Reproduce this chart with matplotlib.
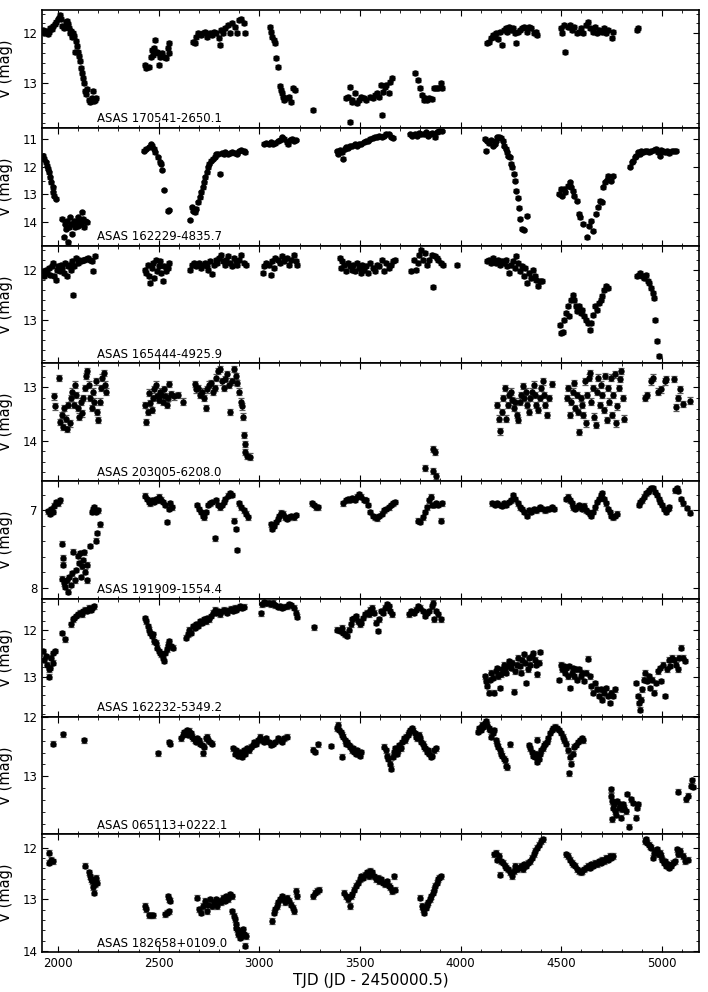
import matplotlib
matplotlib.use("Agg")
import matplotlib.pyplot as plt
from matplotlib.ticker import MultipleLocator

# ---------------- data: (TJD, V mag) per star ----------------
names = ["ASAS 170541-2650.1", "ASAS 162229-4835.7", "ASAS 165444-4925.9",
         "ASAS 203005-6208.0", "ASAS 191909-1554.4", "ASAS 162232-5349.2",
         "ASAS 065113+0222.1", "ASAS 182658+0109.0"]

# typical photometric error per star (mag)
errors = [0.04, 0.05, 0.04, 0.06, 0.03, 0.05, 0.04, 0.05]

lc_170541 = [
    (1925,11.93),(1932,12.0),(1940,11.95),(1948,12.02),(1955,11.97),(1962,11.9),(1970,11.92),(1977,11.85),
    (1985,11.82),(1992,11.78),(2000,11.72),(2005,11.68),(2010,11.62),(2015,11.7),(2022,11.85),(2028,11.9),
    (2035,11.88),(2040,11.78),(2045,11.75),(2050,11.82),(2056,11.9),(2062,12.0),(2066,11.95),(2070,12.08),
    (2075,12.0),(2080,12.05),(2086,12.38),(2090,12.15),(2095,12.25),(2100,12.38),(2105,12.45),(2110,12.55),
    (2115,12.7),(2120,12.8),(2125,12.9),(2130,13.0),(2135,13.15),(2138,13.22),(2145,13.12),(2155,13.33),
    (2160,13.38),(2165,13.35),(2170,13.3),(2175,13.15),(2180,13.35),(2185,13.33),(2190,13.3),
    (2432,12.63),(2439,12.7),(2450,12.67),(2461,12.47),(2468,12.33),(2472,12.43),(2479,12.3),(2484,12.13),
    (2490,12.37),(2495,12.4),(2500,12.63),(2506,12.47),(2517,12.4),(2529,12.47),(2535,12.5),(2545,12.3),
    (2549,12.2),(2553,12.4),
    (2670,12.17),(2679,12.2),(2686,12.07),(2697,12.0),(2709,12.03),(2720,12.0),(2731,11.97),(2742,12.07),
    (2754,12.0),(2765,12.03),(2776,11.97),(2783,12.0),(2799,12.1),(2803,12.23),(2810,11.93),(2821,12.0),
    (2832,11.9),(2844,11.83),(2855,12.0),(2866,11.8),(2877,11.87),(2889,12.0),(2900,11.73),(2911,11.7),
    (2922,11.8),(2927,12.0),
    (3053,11.88),(3057,11.97),(3064,12.07),(3073,12.13),(3080,12.2),(3084,12.5),(3091,12.67),(3102,13.05),
    (3107,13.13),(3114,13.2),(3118,13.27),(3125,13.33),(3136,13.3),(3147,13.27),(3159,13.37),(3165,13.1),
    (3177,13.13),(3265,13.53),
    (3431,13.3),(3440,13.27),(3451,13.07),(3452,13.77),(3458,13.33),(3462,13.37),(3474,13.2),(3485,13.4),
    (3496,13.33),(3507,13.27),(3519,13.3),(3530,13.33),(3548,13.27),(3564,13.3),(3575,13.23),(3586,13.2),
    (3597,13.27),(3604,13.03),(3609,13.63),(3615,13.17),(3624,13.07),(3631,13.03),(3642,13.2),(3649,12.97),
    (3658,12.9),
    (3771,12.79),(3789,12.93),(3800,13.1),(3807,13.23),(3816,13.33),(3822,13.3),(3834,13.33),(3845,13.3),
    (3856,13.31),(3867,13.1),(3879,13.1),(3890,13.1),(3901,13.0),(3908,13.1),
    (4133,12.2),(4142,12.17),(4151,12.1),(4160,12.03),(4169,12.07),(4178,12.0),(4187,12.12),(4196,11.97),
    (4205,12.23),(4214,11.93),(4223,11.9),(4232,11.97),(4241,11.88),(4250,11.93),(4259,11.9),(4268,12.0),
    (4277,12.19),(4286,11.97),(4295,11.93),(4306,11.9),(4317,11.87),(4329,11.97),(4340,11.87),(4351,11.9),
    (4362,12.0),(4374,11.97),(4380,12.03),
    (4497,11.9),(4504,12.0),(4513,11.83),(4520,12.37),(4531,11.87),(4542,11.83),(4554,11.93),(4565,11.87),
    (4576,12.0),(4587,11.97),(4599,11.9),(4610,12.0),(4621,11.83),(4632,11.77),(4644,11.9),(4655,11.97),
    (4666,11.87),(4677,12.0),(4689,11.93),(4700,11.97),(4711,11.9),(4722,12.0),(4734,11.93),(4750,12.1),
    (4758,11.97),(4875,11.93),(4880,11.9),
]

lc_162229 = [
    (1926,11.6),(1932,11.72),(1939,11.84),(1946,11.96),(1950,12.08),(1955,12.2),(1960,12.38),(1966,12.56),
    (1973,12.74),(1977,12.92),(1982,13.04),(1989,13.16),
    (2022,13.88),(2029,14.54),(2034,14.06),(2040,14.24),(2045,13.94),(2050,14.72),(2056,14.18),(2061,13.82),
    (2067,14.06),(2072,14.42),(2079,13.94),(2085,14.18),(2090,14.0),(2097,13.82),(2101,14.12),(2108,13.94),
    (2112,14.06),(2117,13.64),(2124,13.88),(2130,14.18),(2135,13.94),(2142,14.0),
    (2427,11.42),(2439,11.36),(2450,11.3),(2461,11.2),(2468,11.24),(2477,11.36),(2484,11.48),(2495,11.66),
    (2506,11.84),(2513,11.9),(2517,12.12),(2529,12.84),(2545,13.58),(2553,13.56),
    (2657,13.92),(2664,13.46),(2670,13.58),(2679,13.64),(2688,13.52),(2697,13.28),(2704,13.1),(2711,12.92),
    (2718,12.74),(2725,12.56),(2731,12.38),(2738,12.2),(2745,12.02),(2751,11.9),(2760,11.78),(2770,11.72),
    (2778,11.64),(2787,11.56),(2796,11.54),(2805,12.26),(2814,11.52),(2823,11.56),(2832,11.48),(2844,11.54),
    (2855,11.52),(2866,11.48),(2877,11.52),(2889,11.54),(2900,11.44),(2911,11.4),(2922,11.42),(2929,11.48),
    (3024,11.18),(3035,11.16),(3046,11.2),(3057,11.12),(3069,11.18),(3080,11.16),(3091,11.08),(3102,11.04),
    (3114,10.94),(3125,11.0),(3136,11.12),(3143,11.2),(3152,11.04),(3163,11.0),(3174,11.06),(3183,11.04),
    (3384,11.44),(3391,11.54),(3400,11.4),(3409,11.48),(3417,11.72),(3424,11.36),(3433,11.3),(3442,11.32),
    (3451,11.24),(3462,11.24),(3474,11.2),(3485,11.24),(3496,11.18),(3507,11.18),(3519,11.12),(3530,11.08),
    (3541,11.06),(3552,11.0),(3564,10.96),(3575,10.92),(3586,10.94),(3597,10.88),(3609,10.92),(3620,10.88),
    (3631,10.82),(3642,10.84),(3654,10.92),(3665,10.96),
    (3748,10.84),(3759,10.88),(3771,10.82),(3782,10.88),(3793,10.8),(3804,10.84),(3816,10.82),(3827,10.76),
    (3838,10.88),(3849,10.84),(3860,10.8),(3872,10.94),(3883,10.76),(3894,10.7),(3906,10.72),
    (4120,11.0),(4126,11.42),(4133,11.08),(4142,11.16),(4151,11.04),(4160,11.24),(4169,11.18),(4176,11.06),
    (4182,10.94),(4191,10.92),(4200,10.96),(4209,11.06),(4216,11.24),(4223,11.36),(4230,11.48),(4236,11.6),
    (4243,11.66),(4250,11.9),(4257,12.02),(4263,12.26),(4270,12.5),(4277,12.86),(4284,13.12),(4290,13.48),
    (4295,13.88),(4306,14.24),(4317,14.28),(4329,13.76),
    (4491,12.98),(4497,12.8),(4504,13.04),(4513,12.8),(4520,12.92),(4531,12.68),(4542,12.56),(4549,12.74),
    (4556,12.86),(4565,13.04),(4576,13.22),(4587,13.7),(4594,13.82),(4610,14.06),(4626,14.54),(4637,14.12),
    (4646,13.94),(4655,14.3),(4673,13.7),(4684,13.46),(4691,13.22),(4700,13.28),(4707,12.74),(4716,12.56),
    (4725,12.48),(4734,12.32),(4745,12.5),(4756,12.32),
    (4840,12.0),(4849,11.84),(4857,11.78),(4864,11.66),(4873,11.6),(4880,11.48),(4889,11.54),(4898,11.44),
    (4907,11.48),(4916,11.44),(4925,11.42),(4936,11.48),(4947,11.44),(4959,11.4),(4970,11.36),(4981,11.48),
    (4988,11.6),(4997,11.4),(5006,11.44),(5015,11.48),(5026,11.42),(5037,11.52),(5049,11.44),(5060,11.42),
    (5071,11.42),
]

lc_165444 = [
    (1926,12.03),(1932,12.13),(1939,12.0),(1946,12.07),(1955,11.97),(1962,12.1),(1968,11.93),(1975,11.87),
    (1982,12.13),(1989,12.2),(1995,12.0),(2002,11.93),(2009,12.03),(2016,11.9),(2022,11.97),(2029,12.07),
    (2036,11.87),(2043,12.13),(2050,11.93),(2056,11.9),(2063,12.0),(2070,11.83),(2074,12.5),(2081,11.93),
    (2090,11.77),(2097,11.87),(2104,11.8),(2112,11.83),(2122,11.8),(2130,11.81),(2140,11.79),(2149,11.77),
    (2157,11.8),(2169,11.83),(2176,12.03),(2185,11.73),
    (2432,12.0),(2439,12.07),(2446,11.9),(2452,12.13),(2459,12.27),(2466,11.97),(2472,11.87),(2479,12.17),
    (2486,11.8),(2493,12.03),(2500,11.93),(2506,11.83),(2513,12.07),(2520,12.23),(2526,11.93),(2535,12.03),
    (2545,11.97),(2553,11.87),
    (2657,12.0),(2666,11.9),(2675,11.87),(2684,11.93),(2693,11.9),(2702,11.87),(2711,11.97),(2720,11.9),
    (2729,11.87),(2738,11.93),(2747,12.0),(2756,11.83),(2765,12.08),(2774,11.9),(2783,11.8),(2792,11.87),
    (2801,11.77),(2810,11.7),(2819,11.83),(2828,11.9),(2837,11.8),(2846,11.73),(2855,11.87),(2864,11.93),
    (2873,11.77),(2882,11.83),(2891,11.9),(2900,11.8),(2911,11.7),(2922,11.87),(2934,11.9),
    (3017,12.07),(3024,11.93),(3035,11.87),(3046,11.9),(3057,12.1),(3064,11.83),(3073,11.97),(3080,11.77),
    (3091,11.8),(3102,11.87),(3114,11.73),(3125,11.83),(3136,11.77),(3147,11.9),(3159,11.8),(3170,11.7),
    (3181,11.83),(3188,11.9),
    (3400,11.77),(3406,11.97),(3413,11.83),(3422,11.9),(3431,12.03),(3440,11.87),(3449,11.93),(3458,12.0),
    (3467,11.9),(3476,12.03),(3485,11.87),(3494,11.97),(3503,12.07),(3512,11.9),(3521,12.0),(3530,11.93),
    (3541,12.07),(3552,11.87),(3564,11.97),(3575,12.03),(3586,11.9),(3597,11.93),(3609,11.8),(3620,12.03),
    (3631,11.87),(3642,11.97),(3654,11.9),(3665,11.83),(3676,11.8),
    (3755,12.03),(3766,11.8),(3777,12.0),(3789,11.87),(3795,11.7),(3804,11.6),(3811,11.8),(3822,11.67),
    (3834,11.9),(3845,11.8),(3856,11.7),(3863,12.35),(3872,11.73),(3881,11.77),(3890,11.8),(3901,11.87),
    (3912,11.9),(3980,11.9),
    (4133,11.83),(4142,11.8),(4151,11.87),(4160,11.77),(4169,11.83),(4178,11.87),(4187,11.8),(4196,11.9),
    (4205,11.83),(4214,11.87),(4223,11.8),(4232,11.93),(4241,12.07),(4250,11.9),(4259,11.83),(4268,11.97),
    (4277,11.73),(4286,11.87),(4295,12.03),(4304,11.93),(4313,12.13),(4322,11.97),(4331,12.27),(4340,12.07),
    (4349,12.17),(4358,12.0),(4367,12.13),(4376,12.2),(4385,12.33),(4394,12.23),(4403,12.23),
    (4493,13.1),(4497,13.27),(4506,13.25),(4515,13.0),(4525,12.87),(4531,12.73),(4538,12.93),(4547,12.6),
    (4556,12.5),(4565,12.6),(4572,12.73),(4578,12.83),(4587,12.73),(4596,12.87),(4605,12.8),(4614,12.93),
    (4623,13.0),(4632,13.07),(4641,13.2),(4650,13.07),(4659,12.9),(4668,12.73),(4677,12.8),(4686,12.67),
    (4695,12.6),(4704,12.53),(4713,12.4),(4722,12.33),(4731,12.37),
    (4875,12.13),(4884,12.1),(4893,12.07),(4902,12.13),(4911,12.17),(4920,12.1),(4929,12.23),(4938,12.27),
    (4947,12.37),(4954,12.47),(4961,12.57),(4965,13.0),(4975,13.43),(4983,13.73),
]

lc_203005 = [
    (1982,13.17),(1987,13.36),(2005,12.83),(2011,13.65),(2018,13.52),(2025,13.75),(2032,13.39),(2038,13.59),
    (2045,13.78),(2052,13.33),(2058,13.68),(2065,13.2),(2072,13.08),(2079,13.33),(2085,12.95),(2092,13.14),
    (2099,13.39),(2106,13.55),(2112,13.27),(2119,13.49),(2126,13.2),(2133,13.01),(2140,12.79),(2146,12.69),
    (2153,12.95),(2160,13.2),(2167,13.39),(2173,13.08),(2180,13.27),(2187,12.89),(2194,13.46),(2200,13.62),
    (2207,13.27),(2214,13.01),(2221,12.82),(2227,12.73),(2234,12.95),(2241,13.08),
    (2432,13.33),(2439,13.65),(2446,13.46),(2452,13.1),(2459,13.3),(2466,13.43),(2472,13.2),(2479,13.04),
    (2486,12.95),(2493,13.17),(2500,13.24),(2506,13.08),(2513,13.14),(2520,13.27),(2526,13.04),(2533,13.17),
    (2540,13.33),(2547,13.2),(2553,12.94),(2562,13.13),(2574,13.17),(2596,13.14),(2619,13.27),
    (2682,12.94),(2688,13.04),(2697,13.01),(2706,13.14),(2715,13.08),(2725,13.2),(2734,13.39),(2742,13.04),
    (2751,12.95),(2760,12.92),(2770,13.08),(2778,13.01),(2787,12.82),(2796,12.69),(2805,12.66),(2814,12.89),
    (2823,13.01),(2832,12.85),(2841,12.76),(2850,12.95),(2855,13.46),(2864,12.89),(2873,12.66),(2882,12.79),
    (2891,12.92),(2900,13.08),(2907,13.27),(2913,13.36),(2918,13.55),(2922,13.9),(2927,14.06),(2931,14.22),
    (2940,14.29),(2952,14.3),
    (3822,14.51),(3863,14.16),(3872,14.22),(3864,14.57),(3879,14.67),
    (4182,13.33),(4189,13.59),(4196,13.83),(4205,13.46),(4212,13.2),(4218,13.01),(4227,13.59),(4234,13.33),
    (4241,13.14),(4250,13.08),(4257,13.24),(4263,13.39),(4272,13.27),(4279,13.52),(4286,13.62),(4295,13.27),
    (4302,13.14),(4308,12.98),(4317,13.2),(4324,13.08),(4331,13.33),(4340,13.46),(4347,13.2),(4353,13.08),
    (4362,12.95),(4369,13.14),(4376,13.33),(4385,13.43),(4392,13.2),(4398,13.01),(4407,12.89),(4414,13.14),
    (4421,13.33),(4430,13.52),(4439,13.2),(4452,12.94),
    (4527,13.2),(4533,13.01),(4542,13.52),(4549,13.27),(4556,13.08),(4563,12.92),(4569,13.39),(4576,13.14),
    (4583,13.46),(4590,13.84),(4596,13.2),(4603,13.33),(4610,13.52),(4617,12.89),(4623,13.68),(4630,13.14),
    (4637,12.82),(4644,12.73),(4650,13.27),(4657,13.01),(4664,13.55),(4671,13.71),(4677,13.08),(4684,12.82),
    (4691,13.33),(4698,12.95),(4704,13.14),(4711,13.43),(4718,12.79),(4725,13.62),(4731,13.01),(4738,13.27),
    (4745,12.82),(4752,13.52),(4758,13.14),(4765,12.76),(4772,13.68),(4779,13.36),(4785,13.01),(4792,12.85),
    (4799,12.69),(4806,13.2),(4812,13.59),
    (4914,13.2),(4925,13.14),(4947,12.89),(4954,12.82),(4981,13.08),(4997,13.04),(5015,12.89),(5022,12.85),
    (5060,12.85),(5071,13.38),(5082,13.2),(5089,13.04),(5105,13.32),(5139,13.25),
]

lc_191909 = [
    (1951,7.01),(1960,7.04),(1966,6.98),(1973,7.02),(1982,6.94),(1991,6.89),(2000,6.91),(2009,6.87),
    (2018,7.43),(2025,7.61),(2027,7.7),(2022,7.88),(2029,7.94),(2036,7.99),(2043,7.9),(2050,8.05),
    (2056,7.86),(2063,7.96),(2070,7.81),(2076,7.53),(2083,7.9),(2090,7.77),(2097,7.59),(2104,7.68),
    (2108,7.55),(2112,7.86),(2119,7.72),(2126,7.64),(2130,7.54),(2135,7.79),(2142,7.7),(2146,7.9),
    (2157,7.46),(2169,7.02),(2176,6.98),(2180,6.96),(2187,7.02),(2191,7.39),(2193,7.29),(2198,7.0),(2207,7.18),
    (2432,6.81),(2441,6.85),(2450,6.89),(2459,6.91),(2468,6.87),(2477,6.89),(2486,6.85),(2495,6.87),
    (2504,6.82),(2513,6.86),(2522,6.89),(2531,6.93),(2540,7.15),(2549,6.98),(2558,6.91),(2567,6.96),
    (2691,6.93),(2700,6.98),(2709,7.02),(2718,7.07),(2727,7.09),(2736,7.02),(2745,6.93),(2754,6.91),
    (2765,6.89),(2778,7.36),(2787,6.87),(2796,6.93),(2805,6.96),(2814,6.93),(2823,6.89),(2832,6.85),
    (2844,6.81),(2855,6.78),(2866,6.8),(2873,7.13),(2882,7.24),(2891,7.51),(2900,6.91),(2911,6.96),
    (2922,7.0),(2934,7.04),(2945,7.09),
    (3057,7.18),(3064,7.24),(3073,7.2),(3082,7.15),(3091,7.11),(3100,7.07),(3109,7.03),(3118,7.04),
    (3127,7.09),(3136,7.11),(3147,7.09),(3159,7.07),(3170,7.09),(3181,7.06),
    (3260,6.91),(3271,6.93),(3282,6.96),(3294,6.96),
    (3417,6.91),(3429,6.87),(3440,6.85),(3451,6.86),(3462,6.84),(3474,6.86),(3485,6.82),(3496,6.79),
    (3507,6.82),(3519,6.86),(3530,6.87),(3541,6.93),(3552,7.02),(3564,7.07),(3575,7.09),(3586,7.1),
    (3597,7.07),(3609,7.04),(3620,7.0),(3631,6.98),(3642,6.96),(3654,6.93),(3665,6.91),(3676,6.89),
    (3789,7.13),(3800,7.15),(3811,7.09),(3822,7.02),(3834,6.96),(3845,6.87),(3852,6.82),(3856,6.93),
    (3867,6.93),(3879,6.91),(3890,6.93),(3901,7.13),(3908,6.91),
    (4156,6.91),(4171,6.93),(4182,6.91),(4194,6.93),(4205,6.94),(4216,6.91),(4227,6.93),(4239,6.89),
    (4250,6.87),(4261,6.8),(4272,6.85),(4284,6.91),(4295,6.96),(4306,6.98),(4317,7.02),(4329,7.07),
    (4340,7.0),(4351,7.02),(4362,6.98),(4374,7.0),(4385,6.98),(4396,6.96),(4407,6.98),(4419,7.0),
    (4430,6.98),(4441,6.98),(4452,6.96),(4464,6.98),
    (4525,6.85),(4533,6.82),(4542,6.87),(4551,6.91),(4560,6.96),(4569,6.98),(4578,6.96),(4587,6.93),
    (4596,6.96),(4605,6.98),(4614,6.94),(4623,7.0),(4632,7.02),(4641,7.04),(4650,7.07),(4659,7.02),
    (4668,6.96),(4677,6.89),(4686,6.85),(4695,6.8),(4704,6.78),(4713,6.85),(4722,6.91),(4731,6.98),
    (4740,7.02),(4749,7.07),(4758,7.09),(4767,7.07),(4776,7.04),
    (4884,6.93),(4893,6.89),(4902,6.87),(4911,6.82),(4920,6.78),(4929,6.76),(4938,6.74),(4947,6.71),
    (4956,6.71),(4965,6.76),(4974,6.8),(4983,6.85),(4992,6.89),(5001,6.93),(5010,6.98),(5019,7.02),
    (5028,6.98),(5037,6.96),(5064,6.74),(5073,6.71),(5082,6.75),(5094,6.85),(5105,6.91),(5123,6.97),
    (5141,7.03),
]

lc_162232 = [
    (1926,12.45),(1932,12.63),(1939,12.56),(1946,12.74),(1953,12.84),(1955,13.0),(1960,12.81),(1966,12.59),
    (1973,12.7),(1977,12.49),(1984,12.45),
    (2018,12.06),(2034,12.2),
    (2067,11.88),(2074,11.77),(2081,11.74),(2090,11.7),(2099,11.66),(2108,11.63),(2117,11.66),(2126,11.59),
    (2135,11.56),(2144,11.59),(2153,11.52),(2162,11.56),(2171,11.52),(2180,11.49),
    (2432,11.74),(2439,11.81),(2446,11.91),(2452,11.99),(2459,12.06),(2466,12.13),(2472,12.09),(2479,12.24),
    (2486,12.27),(2493,12.38),(2500,12.45),(2506,12.49),(2513,12.52),(2520,12.59),(2526,12.66),(2533,12.49),
    (2540,12.41),(2547,12.31),(2553,12.24),(2562,12.34),(2571,12.38),
    (2635,12.16),(2644,12.09),(2652,11.99),(2661,12.06),(2670,11.91),(2679,11.95),(2688,11.88),(2697,11.91),
    (2706,11.81),(2715,11.84),(2725,11.77),(2734,11.81),(2742,11.74),(2751,11.77),(2760,11.7),(2770,11.63),
    (2778,11.56),(2787,11.63),(2796,11.59),(2805,11.66),(2814,11.59),(2823,11.56),(2832,11.59),(2841,11.63),
    (2850,11.57),(2860,11.54),(2868,11.59),(2877,11.52),(2886,11.56),(2895,11.52),(2904,11.49),(2913,11.52),
    (2922,11.5),
    (3006,11.64),(3012,11.45),(3024,11.4),(3035,11.43),(3046,11.41),(3057,11.45),(3069,11.41),(3080,11.47),
    (3091,11.5),(3102,11.49),(3114,11.52),(3125,11.5),(3136,11.49),(3147,11.45),(3159,11.47),(3170,11.52),
    (3181,11.63),(3188,11.71),
    (3271,11.94),
    (3388,11.99),(3400,12.02),(3409,11.95),(3417,12.06),(3426,12.09),(3435,12.13),(3444,11.99),(3453,11.88),
    (3462,11.77),(3471,11.74),(3480,11.7),(3489,11.81),(3498,11.88),(3507,11.84),(3516,11.74),(3525,11.66),
    (3534,11.63),(3543,11.66),(3552,11.56),(3561,11.52),(3570,11.63),(3579,11.84),(3588,12.02),(3597,11.77),
    (3606,11.59),(3615,11.63),(3624,11.52),(3633,11.45),(3642,11.49),(3651,11.59),(3660,11.66),
    (3744,11.66),(3755,11.59),(3766,11.63),(3777,11.56),(3789,11.49),(3800,11.52),(3811,11.59),(3822,11.7),
    (3834,11.63),(3845,11.59),(3856,11.49),(3863,11.41),(3870,11.77),(3879,11.59),(3890,11.66),(3901,11.77),
    (4120,12.99),(4126,13.09),(4133,13.2),(4140,13.34),(4147,13.06),(4153,12.91),(4160,13.02),(4167,13.34),
    (4174,12.88),(4180,12.81),(4187,12.99),(4194,13.24),(4200,12.95),(4207,12.84),(4214,12.74),(4221,12.81),
    (4227,12.91),(4234,12.77),(4241,12.66),(4248,12.81),(4254,12.7),(4263,13.32),(4272,12.88),(4279,12.74),
    (4286,12.59),(4293,12.77),(4299,12.91),(4306,12.63),(4313,12.52),(4320,12.7),(4326,13.13),(4333,12.84),
    (4340,12.59),(4347,12.74),(4353,12.56),(4360,12.49),(4367,12.63),(4374,12.74),(4380,12.95),(4387,12.7),
    (4396,12.47),
    (4491,13.07),(4497,12.74),(4504,12.84),(4511,12.77),(4518,12.91),(4525,12.81),(4531,12.99),(4538,12.77),
    (4545,13.24),(4551,12.91),(4558,12.81),(4565,12.99),(4572,12.84),(4578,13.06),(4587,12.84),(4596,12.99),
    (4605,12.91),(4614,13.09),(4623,12.91),(4632,12.61),(4641,12.99),(4650,13.2),(4659,13.34),(4668,13.13),
    (4677,13.27),(4686,13.41),(4695,13.27),(4704,13.49),(4713,13.34),(4722,13.24),(4731,13.41),(4740,13.56),
    (4749,13.34),(4758,13.41),(4767,13.27),
    (4873,13.13),(4880,13.41),(4884,13.56),(4889,13.7),(4896,13.49),(4902,13.27),(4909,13.06),(4916,12.91),
    (4925,13.09),(4934,12.99),(4943,13.24),(4952,13.06),(4961,13.34),(4970,13.13),(4979,12.88),(4988,12.81),
    (4997,13.09),(5006,12.74),(5015,13.41),(5024,12.84),(5033,12.63),(5042,12.77),(5051,12.59),(5060,12.63),
    (5069,12.74),(5078,12.84),(5087,12.59),(5096,12.38),(5105,12.59),(5116,12.66),
]

lc_065113 = [
    (1977,12.45),(2027,12.29),(2128,12.39),
    (2495,12.61),(2551,12.42),(2556,12.45),
    (2612,12.36),(2619,12.3),(2626,12.25),(2632,12.27),(2639,12.22),(2646,12.3),(2652,12.23),(2659,12.27),
    (2666,12.33),(2673,12.36),(2680,12.39),(2686,12.42),(2693,12.36),(2700,12.39),(2706,12.45),(2713,12.47),
    (2720,12.61),(2727,12.5),(2733,12.36),(2740,12.33),(2747,12.39),(2754,12.42),(2765,12.45),
    (2871,12.53),(2877,12.62),(2886,12.56),(2895,12.65),(2904,12.59),(2913,12.67),(2922,12.56),(2931,12.62),
    (2940,12.53),(2949,12.56),(2958,12.5),(2967,12.47),(2976,12.42),(2985,12.45),(2994,12.39),(3003,12.33),
    (3012,12.39),(3024,12.42),(3035,12.36),(3046,12.42),(3057,12.47),(3069,12.45),(3080,12.42),(3091,12.36),
    (3102,12.39),(3114,12.42),(3125,12.36),(3136,12.33),
    (3265,12.55),(3276,12.59),(3294,12.46),(3355,12.49),
    (3384,12.19),(3391,12.13),(3397,12.22),(3404,12.25),(3409,12.67),(3411,12.3),(3417,12.33),(3424,12.39),
    (3431,12.45),(3438,12.42),(3444,12.47),(3451,12.5),(3458,12.56),(3465,12.53),(3471,12.59),(3478,12.62),
    (3485,12.56),(3492,12.62),(3498,12.65),(3505,12.59),
    (3620,12.5),(3627,12.56),(3633,12.65),(3640,12.7),(3647,12.79),(3656,12.87),(3663,12.67),(3669,12.59),
    (3676,12.53),(3683,12.62),(3690,12.56),(3696,12.47),(3703,12.53),(3710,12.42),(3717,12.36),(3723,12.39),
    (3730,12.33),(3737,12.3),(3744,12.26),(3750,12.22),(3757,12.19),(3764,12.23),(3771,12.27),(3777,12.33),
    (3784,12.36),(3791,12.3),(3798,12.36),(3804,12.42),(3811,12.45),(3818,12.5),(3825,12.53),(3831,12.59),
    (3838,12.56),(3845,12.62),(3852,12.67),(3858,12.65),(3867,12.56),(3879,12.53),
    (4086,12.25),(4092,12.19),(4099,12.22),(4106,12.13),(4113,12.16),(4120,12.1),(4126,12.07),(4133,12.13),
    (4140,12.19),(4146,12.22),(4153,12.33),(4160,12.27),(4167,12.22),(4174,12.39),(4180,12.45),(4187,12.5),
    (4194,12.56),(4200,12.62),(4207,12.65),(4214,12.7),(4221,12.73),(4227,12.82),(4232,12.85),(4245,12.46),
    (4340,12.47),(4347,12.53),(4353,12.59),(4360,12.65),(4367,12.67),(4374,12.62),(4380,12.76),(4381,12.38),
    (4387,12.7),(4394,12.62),(4401,12.56),(4407,12.53),(4414,12.47),(4421,12.45),(4428,12.42),(4434,12.36),
    (4443,12.27),(4452,12.22),(4461,12.19),(4470,12.16),(4479,12.19),(4488,12.22),(4497,12.27),(4506,12.33),
    (4515,12.39),(4525,12.45),(4533,12.56),(4538,12.95),(4542,12.67),(4549,12.79),(4556,12.62),(4565,12.5),
    (4574,12.47),(4583,12.42),(4592,12.39),(4601,12.36),(4610,12.39),
    (4745,13.22),(4749,13.33),(4754,13.42),(4758,13.53),(4752,13.73),(4763,13.47),(4767,13.59),(4772,13.65),
    (4779,13.42),(4785,13.53),(4790,13.47),(4797,13.7),(4801,13.56),(4808,13.47),(4812,13.53),(4819,13.59),
    (4826,13.3),(4835,13.85),(4846,13.39),(4857,13.45),(4869,13.7),(4875,13.53),(4880,13.47),
    (5082,13.26),(5120,13.39),(5127,13.33),(5143,13.16),(5150,13.07),(5156,13.18),
]

lc_182658 = [
    (1955,12.1),(1956,12.29),(1966,12.23),(1977,12.26),
    (2135,12.35),(2153,12.48),(2157,12.55),(2164,12.61),(2169,12.65),(2176,12.77),(2180,12.87),(2185,12.71),
    (2189,12.58),(2194,12.68),
    (2432,13.13),(2439,13.19),(2450,13.31),(2461,13.31),(2472,13.31),
    (2533,13.29),(2540,13.26),(2547,12.94),(2551,13.0),(2553,13.23),(2558,13.03),
    (2691,12.97),(2702,13.19),(2711,13.26),(2720,13.13),(2729,13.03),(2738,13.23),(2747,13.1),(2756,13.0),
    (2765,13.13),(2774,13.06),(2783,13.0),(2792,13.13),(2801,13.03),(2810,13.06),(2819,12.97),(2828,13.03),
    (2837,12.94),(2846,13.0),(2855,12.9),(2864,12.94),
    (2866,13.23),(2873,13.32),(2877,13.39),(2882,13.48),(2886,13.55),(2891,13.58),(2895,13.68),(2900,13.61),
    (2904,13.74),(2909,13.65),(2913,13.71),(2918,13.58),(2922,13.68),(2927,13.9),(2934,13.71),
    (3064,13.42),(3073,13.26),(3080,13.19),(3087,13.13),(3093,13.06),(3102,13.0),(3111,12.94),(3120,13.0),
    (3129,13.06),(3138,12.97),(3147,13.03),(3156,13.1),(3165,13.16),(3174,13.23),(3181,12.84),(3186,12.94),
    (3265,12.94),(3276,12.87),(3287,12.84),(3296,12.81),
    (3422,12.87),(3431,12.94),(3440,13.0),(3449,13.13),(3453,12.94),(3462,12.9),(3471,12.81),(3480,12.74),
    (3489,12.68),(3498,12.61),(3507,12.55),(3516,12.58),(3525,12.52),(3534,12.48),(3543,12.55),(3552,12.45),
    (3561,12.48),(3570,12.55),(3579,12.61),(3588,12.58),(3597,12.65),(3606,12.61),(3615,12.68),(3624,12.71),
    (3633,12.65),(3642,12.74),(3651,12.77),(3660,12.84),(3669,12.55),(3674,12.81),
    (3800,12.97),(3807,13.13),(3813,13.19),(3820,13.26),(3827,13.16),(3834,13.1),(3840,13.06),(3847,13.0),
    (3854,12.94),(3861,12.87),(3867,12.81),(3874,12.74),(3881,12.68),(3888,12.61),(3894,12.58),(3901,12.55),
    (4165,12.13),(4176,12.1),(4182,12.23),(4189,12.16),(4196,12.52),(4200,12.26),(4209,12.29),(4218,12.35),
    (4227,12.39),(4236,12.42),(4245,12.48),(4254,12.55),(4263,12.45),(4272,12.35),(4281,12.42),(4290,12.39),
    (4299,12.35),(4308,12.42),(4317,12.32),(4326,12.35),(4335,12.29),(4344,12.26),(4353,12.19),(4362,12.13),
    (4371,12.06),(4380,12.0),(4389,11.94),(4398,11.87),(4407,11.84),
    (4525,12.13),(4533,12.16),(4542,12.23),(4551,12.29),(4560,12.32),(4569,12.35),(4578,12.42),(4587,12.45),
    (4596,12.48),(4605,12.45),(4614,12.42),(4623,12.39),(4632,12.35),(4641,12.39),(4650,12.32),(4659,12.35),
    (4668,12.29),(4677,12.32),(4686,12.26),(4695,12.29),(4704,12.23),(4713,12.26),(4722,12.19),(4731,12.23),
    (4740,12.16),(4749,12.19),(4758,12.16),
    (4914,11.87),(4920,11.84),(4927,11.9),(4934,11.94),(4941,11.97),(4947,12.0),(4954,12.19),(4961,12.1),
    (4968,12.06),(4974,12.03),(4981,12.13),(4988,12.1),(4995,12.16),(5001,12.23),(5008,12.29),(5015,12.26),
    (5022,12.35),(5028,12.32),(5037,12.39),(5046,12.35),(5055,12.29),(5064,12.26),(5073,12.03),(5082,12.13),
    (5091,12.06),(5105,12.16),(5116,12.26),(5127,12.23),
]

light_curves = [lc_170541, lc_162229, lc_165444, lc_203005,
                lc_191909, lc_162232, lc_065113, lc_182658]

# ---------------- layout / style ----------------
ylims = [(13.89, 11.53), (14.84, 10.60), (13.87, 11.52), (14.76, 12.55),
         (8.14, 6.62), (13.85, 11.33), (13.98, 11.99), (14.02, 11.74)]
yminor = [0.2, 0.5, 0.2, 0.2, 0.2, 0.2, 0.2, 0.2]

fig, axes = plt.subplots(8, 1, sharex=True, figsize=(7.08, 9.92), dpi=100)
fig.subplots_adjust(left=0.0597, right=0.9873, top=0.9899, bottom=0.0403, hspace=0)

for i, ax in enumerate(axes):
    lc = light_curves[i]
    t = [p[0] for p in lc]
    m = [p[1] for p in lc]
    ax.errorbar(t, m, yerr=errors[i], fmt='o', ms=3.6, mfc='k', mec='k',
                ecolor='0.35', elinewidth=0.9, capsize=2.0, capthick=0.9, zorder=3)
    ax.set_xlim(1922, 5184)
    ax.set_ylim(*ylims[i])
    ax.yaxis.set_major_locator(MultipleLocator(1))
    ax.yaxis.set_minor_locator(MultipleLocator(yminor[i]))
    ax.xaxis.set_major_locator(MultipleLocator(500))
    ax.xaxis.set_minor_locator(MultipleLocator(100))
    ax.tick_params(which='both', direction='in', top=True, right=True, labelsize=8.5)
    ax.tick_params(which='major', length=4, width=0.8)
    ax.tick_params(which='minor', length=2, width=0.6)
    for s in ax.spines.values():
        s.set_linewidth(1.2)
    ax.set_ylabel("V (mag)", fontsize=10.5)
    ax.yaxis.set_label_coords(-0.044, 0.5)
    ax.text(0.084, 0.045, names[i], transform=ax.transAxes, fontsize=8.5,
            ha='left', va='baseline')

axes[-1].set_xlabel("TJD (JD - 2450000.5)", fontsize=11, labelpad=2)

fig.savefig("out.png", dpi=100)
